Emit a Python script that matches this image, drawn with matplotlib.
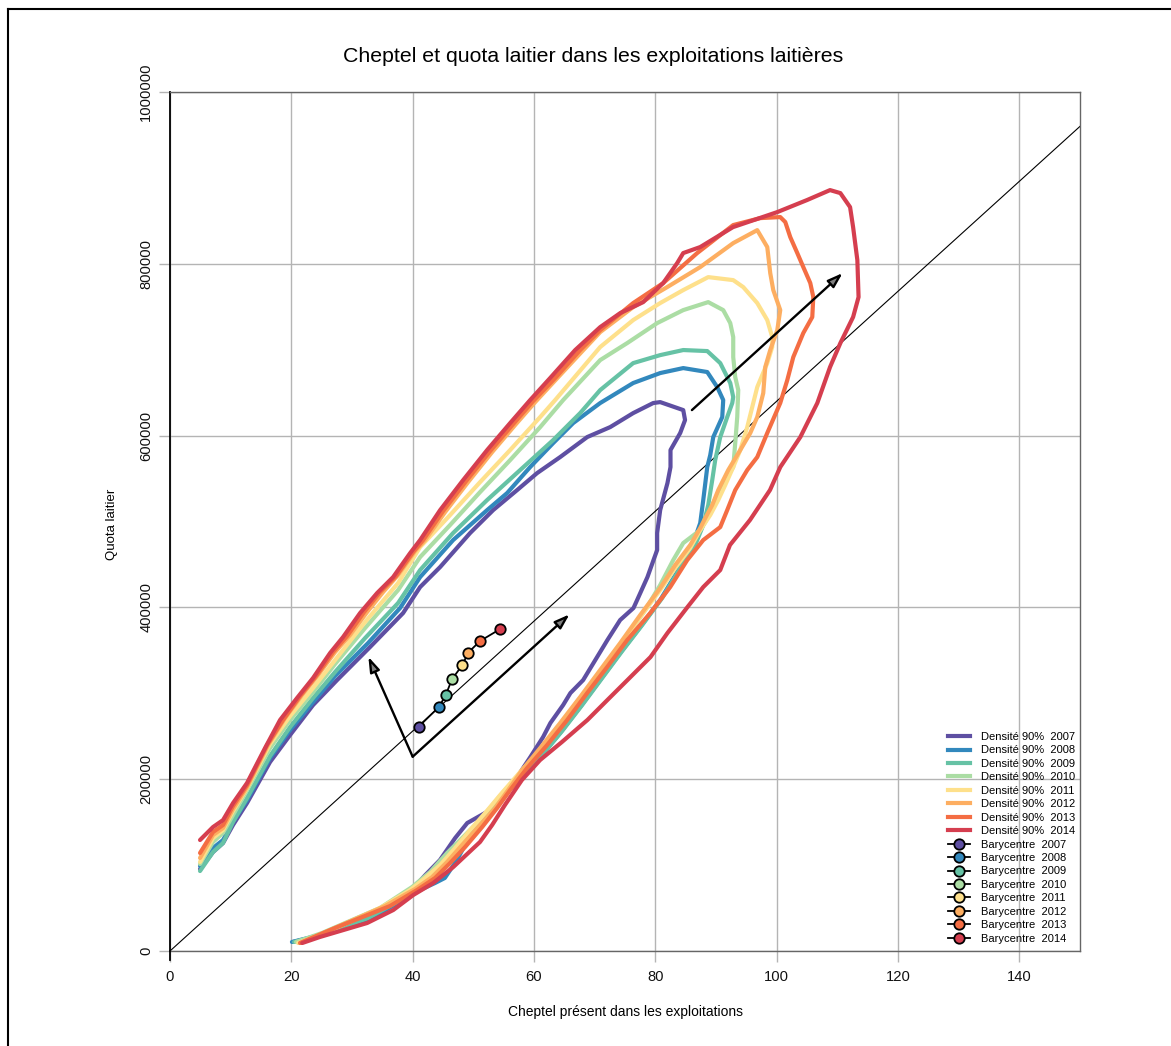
import matplotlib
matplotlib.use("Agg")
import matplotlib.pyplot as plt
from matplotlib.lines import Line2D

plt.rcParams['font.family'] = ['Liberation Sans', 'DejaVu Sans']

years = [2007, 2008, 2009, 2010, 2011, 2012, 2013, 2014]
colors = ['#5E4FA2', '#3288BD', '#66C2A5', '#ABDDA4', '#FEE08B', '#FDAE61', '#F46D43', '#D53E4F']

# 90% density contours: cheptel (x) and quota in thousands of litres (y)
x2007 = [4.95, 7.09, 8.74, 10.39, 12.70, 16.49, 19.79, 23.58, 27.54, 32.98, 38.42, 41.23, 44.53, 49.47, 53.27, 57.22, 60.52, 64.31, 68.77, 72.56, 76.35, 79.65, 80.80, 84.6, 84.9, 84.1, 82.5, 82.5, 82.0, 80.8, 80.3, 80.3, 79.7, 78.7, 77.0, 76.4, 74.2, 72.1, 69.8, 68.1, 66.0, 64.8, 62.7, 61.5, 59.4, 56.9, 54.4, 52.8, 49.0, 47.0, 44.5, 42.1, 40.1, 36.8, 32.5, 24.7, 20.3]
y2007 = [95.4, 115.2, 125.7, 146.7, 172.3, 220.0, 251.4, 286.3, 315.4, 353.9, 393.4, 423.7, 447.0, 486.6, 513.3, 536.6, 556.4, 575.0, 598.3, 609.9, 626.2, 637.9, 639.0, 629.7, 618.1, 603.0, 583.2, 563.4, 544.8, 513.3, 486.6, 466.8, 455.1, 435.3, 408.6, 399.3, 385.3, 362.0, 335.2, 315.4, 300.3, 286.3, 265.4, 249.1, 225.8, 199.0, 175.8, 164.1, 149.0, 131.5, 105.9, 88.5, 73.3, 53.5, 36.1, 17.5, 10.5]

x2008 = [4.95, 7.09, 8.74, 10.39, 12.70, 16.49, 19.79, 23.58, 27.21, 32.65, 37.93, 41.23, 46.67, 52.28, 55.57, 59.37, 63.16, 66.46, 70.91, 76.35, 80.80, 84.60, 88.56, 90.20, 91.19, 91.03, 89.55, 89.05, 88.56, 87.90, 87.40, 86.25, 84.1, 80.8, 77.5, 74.2, 70.9, 67.6, 64.3, 61.0, 57.7, 54.4, 51.9, 49.5, 47.3, 45.3, 43.7, 41.2, 37.9, 33.0, 24.7, 20.1]
y2008 = [98.9, 119.9, 129.2, 150.2, 175.8, 224.7, 257.2, 289.8, 320.1, 358.5, 399.3, 435.3, 478.4, 513.3, 533.1, 563.4, 591.3, 614.6, 637.9, 661.2, 672.8, 678.6, 674.0, 656.5, 641.4, 621.6, 598.3, 577.3, 563.4, 525.0, 498.2, 474.9, 447.0, 408.6, 377.1, 346.9, 315.4, 284.0, 253.8, 225.8, 201.4, 175.8, 154.8, 135.0, 105.9, 85.0, 79.2, 71.0, 57.0, 38.4, 18.6, 10.5]

x2009 = [4.95, 7.09, 8.74, 10.39, 12.70, 16.49, 19.79, 23.58, 27.21, 32.16, 37.60, 41.23, 46.67, 52.28, 57.72, 63.16, 67.61, 70.91, 76.35, 80.80, 84.60, 88.56, 90.70, 92.35, 92.84, 92.68, 91.85, 90.70, 89.87, 89.38, 88.72, 87.90, 86.58, 84.43, 81.13, 77.84, 74.54, 71.24, 67.94, 64.64, 61.35, 58.05, 54.75, 52.28, 49.80, 47.82, 45.35, 42.88, 40.40, 37.10, 32.65, 24.74, 20.45]
y2009 = [93.1, 115.2, 125.7, 150.2, 178.1, 227.0, 260.7, 294.5, 324.8, 364.3, 405.1, 443.5, 486.6, 525.0, 559.9, 594.8, 626.2, 653.0, 684.4, 693.7, 699.6, 698.4, 684.4, 661.2, 644.9, 637.9, 621.6, 598.3, 571.5, 548.2, 519.1, 495.9, 472.6, 449.3, 410.9, 379.5, 349.2, 317.8, 286.3, 256.1, 228.1, 203.7, 179.3, 158.3, 140.8, 123.4, 100.1, 82.6, 71.0, 55.9, 38.4, 18.6, 10.5]

x2010 = [4.95, 7.09, 8.74, 10.39, 12.70, 16.49, 19.79, 23.58, 27.21, 32.16, 37.60, 41.23, 46.17, 51.12, 56.07, 61.02, 64.81, 70.91, 75.36, 80.31, 84.60, 88.72, 91.19, 92.35, 92.84, 92.84, 93.17, 93.67, 93.50, 93.17, 92.84, 91.03, 89.38, 88.23, 87.40, 84.60, 82.95, 80.80, 78.33, 75.03, 71.73, 68.44, 65.14, 61.84, 58.54, 55.24, 52.77, 50.30, 47.82, 45.68, 42.88, 39.91, 34.63, 25.07, 20.78]
y2010 = [101.3, 126.9, 137.4, 158.3, 187.4, 236.3, 268.9, 301.5, 334.1, 376.0, 420.2, 458.6, 495.9, 534.3, 571.5, 609.9, 641.4, 687.9, 707.7, 731.0, 746.1, 755.4, 746.1, 731.0, 714.7, 691.4, 668.1, 653.0, 621.6, 591.3, 563.4, 542.4, 519.1, 499.4, 490.0, 474.9, 455.1, 426.0, 396.9, 364.3, 332.9, 301.5, 271.2, 239.8, 213.0, 187.4, 166.5, 146.7, 129.2, 114.1, 92.0, 74.5, 50.1, 21.0, 10.5]

x2011 = [4.95, 7.09, 8.74, 10.39, 12.70, 16.49, 19.79, 23.58, 27.21, 32.16, 37.60, 41.23, 46.17, 51.12, 56.07, 61.02, 63.49, 70.91, 76.35, 80.80, 84.60, 88.72, 92.84, 94.49, 96.80, 98.45, 99.27, 99.27, 98.45, 96.80, 96.14, 95.15, 94.0, 92.84, 91.52, 90.37, 89.05, 87.40, 85.75, 83.28, 80.80, 77.51, 74.21, 70.91, 67.61, 64.31, 61.02, 57.72, 54.42, 51.95, 49.47, 47.0, 44.53, 42.05, 39.58, 34.63, 25.56, 21.11]
y2011 = [103.6, 131.5, 140.8, 163.0, 189.7, 241.0, 273.5, 306.1, 338.7, 383.0, 428.4, 470.3, 507.5, 545.9, 583.2, 621.6, 641.4, 703.1, 734.5, 754.3, 769.4, 784.5, 781.0, 772.9, 754.3, 734.5, 714.7, 703.1, 684.4, 656.5, 637.9, 609.9, 583.2, 563.4, 542.4, 525.0, 507.5, 490.0, 469.1, 445.8, 420.2, 388.8, 356.2, 324.8, 294.5, 263.1, 234.0, 208.4, 181.6, 160.6, 140.8, 119.9, 100.1, 85.0, 71.0, 50.1, 21.0, 9.3]

x2012 = [4.95, 7.09, 8.74, 10.39, 12.70, 16.16, 18.96, 21.77, 24.41, 27.21, 29.68, 32.49, 35.13, 37.60, 40.40, 42.05, 45.35, 49.14, 53.10, 56.89, 60.19, 64.31, 68.44, 70.91, 76.35, 81.96, 87.40, 92.84, 96.80, 98.45, 98.94, 99.44, 100.59, 100.10, 98.94, 98.12, 97.79, 96.80, 95.65, 94.0, 92.02, 90.37, 89.38, 88.23, 87.40, 85.75, 83.28, 80.80, 77.51, 74.21, 70.91, 67.61, 64.31, 61.02, 58.05, 55.74, 53.6, 51.12, 48.15, 45.68, 43.21, 40.40, 35.46, 26.39, 21.44]
y2012 = [108.3, 135.0, 143.2, 165.3, 190.9, 239.8, 271.2, 298.0, 321.3, 348.0, 367.8, 394.6, 417.9, 437.7, 465.6, 478.4, 511.0, 545.9, 580.8, 612.3, 639.0, 670.5, 701.9, 720.5, 749.6, 772.9, 796.2, 824.1, 839.2, 819.5, 789.2, 769.4, 746.1, 722.8, 699.6, 679.8, 649.5, 621.6, 603.0, 583.2, 559.9, 536.6, 519.1, 504.0, 492.4, 472.6, 449.3, 422.5, 391.1, 358.5, 327.1, 295.7, 265.4, 236.3, 210.7, 187.4, 166.5, 146.7, 123.4, 103.6, 86.1, 72.2, 52.4, 24.4, 9.3]

x2013 = [4.95, 7.09, 8.74, 10.39, 12.70, 16.00, 18.63, 21.44, 24.08, 26.88, 29.19, 31.99, 34.63, 37.27, 40.07, 41.72, 45.02, 48.81, 52.77, 56.56, 59.86, 63.49, 67.61, 70.91, 76.35, 81.30, 86.90, 92.84, 97.30, 100.59, 101.42, 102.24, 103.40, 104.39, 105.54, 106.04, 105.87, 104.39, 102.74, 101.75, 100.59, 98.45, 96.80, 95.15, 93.17, 91.85, 90.70, 87.90, 85.26, 82.45, 79.16, 75.36, 72.06, 68.77, 65.47, 62.17, 58.87, 56.07, 53.93, 51.45, 48.65, 46.17, 43.70, 40.73, 36.28, 27.21, 21.44]
y2013 = [114.1, 138.5, 146.7, 168.8, 193.2, 239.8, 268.9, 296.8, 320.1, 348.0, 366.7, 394.6, 417.9, 436.5, 464.4, 478.4, 512.2, 547.1, 582.0, 613.4, 640.2, 667.0, 699.6, 722.8, 754.3, 777.6, 812.5, 845.1, 853.2, 854.4, 848.6, 831.1, 812.5, 796.2, 777.6, 761.3, 738.0, 719.4, 691.4, 664.6, 637.9, 603.0, 575.0, 559.9, 536.6, 513.3, 493.5, 478.4, 455.1, 423.7, 393.4, 362.0, 330.6, 300.3, 268.9, 239.8, 213.0, 187.4, 166.5, 144.3, 121.1, 102.4, 85.0, 71.0, 52.4, 26.8, 9.3]

x2014 = [4.95, 7.09, 8.74, 10.39, 12.70, 15.67, 18.14, 20.94, 23.58, 26.39, 28.53, 31.33, 34.14, 36.78, 39.58, 41.23, 44.53, 48.32, 52.28, 56.07, 59.37, 62.66, 66.79, 70.91, 74.21, 78.0, 81.3, 83.6, 84.6, 87.4, 92.8, 100.1, 105.0, 108.8, 110.5, 112.1, 112.6, 113.3, 113.5, 112.6, 110.5, 108.8, 106.7, 103.9, 101.7, 100.6, 98.9, 95.6, 92.3, 90.7, 87.9, 85.3, 82.0, 79.2, 75.4, 72.1, 68.8, 64.6, 61.0, 58.0, 55.2, 53.1, 51.1, 46.7, 43.4, 40.1, 36.8, 32.5, 24.7, 21.8]
y2014 = [129.2, 144.3, 152.4, 172.2, 195.6, 236.3, 268.9, 294.5, 317.8, 346.9, 365.5, 393.4, 416.7, 435.3, 463.2, 478.4, 513.3, 548.2, 583.2, 614.6, 641.4, 667.0, 699.6, 726.3, 742.6, 755.4, 777.6, 800.8, 812.5, 819.5, 842.7, 860.2, 874.2, 885.8, 882.3, 866.0, 842.7, 804.3, 761.3, 738.0, 707.7, 679.8, 637.9, 598.3, 575.0, 563.4, 536.6, 501.7, 472.6, 443.5, 423.7, 400.4, 370.2, 342.2, 315.4, 292.2, 268.9, 243.3, 222.3, 199.0, 169.9, 146.7, 126.9, 97.8, 79.2, 65.2, 47.7, 32.6, 16.3, 9.3]

contours_x = [x2007, x2008, x2009, x2010, x2011, x2012, x2013, x2014]
contours_y = [y2007, y2008, y2009, y2010, y2011, y2012, y2013, y2014]

# barycentres
bary_x = [40.97, 44.36, 45.46, 46.50, 48.20, 49.13, 51.10, 54.42]
bary_y = [261.0, 284.3, 298.2, 316.6, 332.9, 347.2, 360.8, 374.8]

# reference line y = slope * x
ref_slope = 6.4  # thousands per head

# arrows (start, end) in data coords (x, y in thousands)
arrow_corner = (40.0, 226.2)
arrow_tip_left = (32.7, 342.5)
arrow_tip_right = (65.85, 391.9)
arrow3_start = (86.03, 629.7)
arrow3_end = (110.87, 789.2)

xticks = [0, 20, 40, 60, 80, 100, 120, 140]
yticks = [0, 200000, 400000, 600000, 800000, 1000000]

W, H = 1171, 1046
fig = plt.figure(figsize=(W / 100, H / 100), dpi=100)
ax = fig.add_axes([170 / W, (H - 951) / H, 910 / W, 859 / H])
ax.set_xlim(0, 150)
ax.set_ylim(0, 1000000)

grid_c = '#b4b4b4'
for xt in xticks:
    ax.axvline(xt, color=grid_c, lw=1.0, zorder=0)
for yt in yticks:
    ax.axhline(yt, color=grid_c, lw=1.0, zorder=0)

ax.plot([0, 150], [0, ref_slope * 150 * 1000], color='black', lw=0.8, zorder=1)

for xs, ys, c in zip(contours_x, contours_y, colors):
    ax.plot(xs, [v * 1000 for v in ys], color=c, lw=3.0, solid_capstyle='round',
            solid_joinstyle='round', zorder=2)

ax.plot(bary_x, [v * 1000 for v in bary_y], color='black', lw=1.3, zorder=4)
for bx, by, c in zip(bary_x, bary_y, colors):
    ax.plot([bx], [by * 1000], marker='o', ms=7.5, mfc=c, mec='black', mew=1.3,
            ls='none', zorder=5)

aprops = dict(arrowstyle='-|>,head_length=0.9,head_width=0.3', fc='#808080', ec='black',
              lw=1.7, shrinkA=0, shrinkB=0)
for start, end in [(arrow_corner, arrow_tip_left), (arrow_corner, arrow_tip_right),
                   (arrow3_start, arrow3_end)]:
    ax.annotate('', xy=(end[0], end[1] * 1000), xytext=(start[0], start[1] * 1000),
                arrowprops=aprops, zorder=6)

ax.set_xticks(xticks)
ax.set_yticks(yticks)
ax.set_xticklabels([str(v) for v in xticks])
ax.set_yticklabels([str(v) for v in yticks], rotation=90, va='center')
ax.tick_params(axis='both', direction='out', length=8, width=1, color=grid_c,
               labelsize=10.6, labelcolor='#111111')
ax.tick_params(axis='x', pad=6)
ax.tick_params(axis='y', pad=4)
for s in ['top', 'right', 'bottom']:
    ax.spines[s].set_color('#666666')
    ax.spines[s].set_linewidth(1.0)
ax.spines['left'].set_color('black')
ax.spines['left'].set_linewidth(1.3)
ax.plot([0, 0], [-10000, 0], color='black', lw=1.3, clip_on=False, zorder=3)

handles = []
labels = []
for y, c in zip(years, colors):
    handles.append(Line2D([], [], color=c, lw=3))
    labels.append(f'Densité 90%  {y}')
for y, c in zip(years, colors):
    handles.append(Line2D([], [], color='black', lw=1.3, marker='o', ms=7.5, mfc=c,
                          mec='black', mew=1.3))
    labels.append(f'Barycentre  {y}')
ax.legend(handles, labels, loc='lower right', bbox_to_anchor=(0.997, 0.006), frameon=False,
          fontsize=8, handlelength=2.0, handletextpad=0.95, labelspacing=0.31,
          borderpad=0.2, borderaxespad=0)

fig.text(593 / W, 1 - 57 / H, 'Cheptel et quota laitier dans les exploitations laitières',
         ha='center', va='center', fontsize=15.3)
fig.text(625 / W, 1 - 1012 / H, 'Cheptel présent dans les exploitations',
         ha='center', va='center', fontsize=10)
fig.text(112 / W, 1 - 524 / H, 'Quota laitier', ha='center', va='center',
         rotation=90, fontsize=9.5)

fig.add_artist(Line2D([8 / W, 8 / W], [0, 1 - 9 / H], transform=fig.transFigure,
                      color='black', lw=1.5))
fig.add_artist(Line2D([8 / W, 1], [1 - 9 / H, 1 - 9 / H], transform=fig.transFigure,
                      color='black', lw=1.5))

fig.savefig('out.png', dpi=100)
